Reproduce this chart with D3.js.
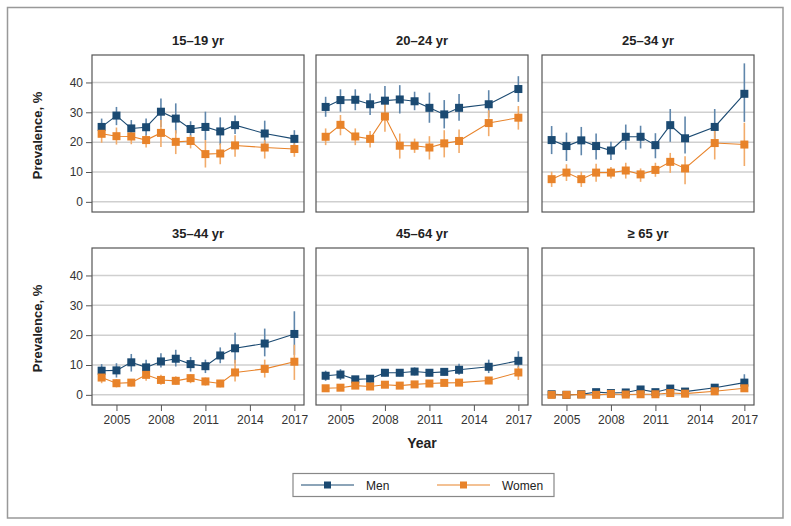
<!DOCTYPE html>
<html>
<head>
<meta charset="utf-8">
<script src="https://cdn.jsdelivr.net/npm/d3@7"></script>
<style>
  body { margin: 0; background: #fff; }
  svg { display: block; font-family: "Liberation Sans", Arial, sans-serif; }
</style>
</head>
<body>
<svg id="chart" width="791" height="526"></svg>
<script>
const years = [2004, 2005, 2006, 2007, 2008, 2009, 2010, 2011, 2012, 2013, 2015, 2017];
const groups = ["15–19 yr", "20–24 yr", "25–34 yr", "35–44 yr", "45–64 yr", "≥ 65 yr"];
const xTicks = [2005, 2008, 2011, 2014, 2017];
const yTicks = [0, 10, 20, 30, 40];
const seriesNames = ["Men", "Women"];

// Men: value, lower, upper per group
const menValues = [
  [25.1, 28.9, 24.6, 25.0, 30.2, 27.9, 24.4, 25.1, 23.6, 25.7, 22.9, 21.1],
  [31.8, 34.1, 34.2, 32.7, 33.9, 34.3, 33.7, 31.5, 29.3, 31.5, 32.7, 37.8],
  [20.7, 18.7, 20.6, 18.7, 17.2, 21.8, 21.8, 19.0, 25.7, 21.3, 25.1, 36.2],
  [8.1, 8.2, 10.9, 9.2, 11.2, 12.1, 10.3, 9.6, 13.2, 15.6, 17.2, 20.4],
  [6.4, 6.8, 5.2, 5.4, 7.4, 7.4, 7.8, 7.4, 7.7, 8.4, 9.4, 11.4],
  [0.2, 0.0, 0.2, 0.9, 0.6, 0.8, 1.8, 0.9, 2.1, 1.1, 2.4, 4.1]
];
const menLower = [
  [22.3, 25.7, 22.0, 22.0, 25.1, 22.9, 21.8, 20.7, 19.0, 22.7, 19.0, 19.0],
  [28.5, 30.2, 30.7, 29.1, 29.1, 29.6, 30.7, 26.5, 24.6, 27.2, 28.3, 33.5],
  [16.0, 13.7, 15.6, 14.2, 14.0, 17.5, 17.9, 14.6, 20.1, 16.2, 20.7, 26.8],
  [6.2, 5.8, 7.8, 7.3, 9.2, 9.5, 7.8, 7.3, 10.6, 10.6, 12.9, 13.4],
  [4.7, 5.0, 3.9, 4.0, 6.2, 6.2, 6.5, 6.2, 6.5, 6.7, 7.3, 9.0],
  [0.0, 0.0, 0.0, 0.3, 0.2, 0.3, 1.0, 0.4, 1.2, 0.6, 1.6, 2.0]
];
const menUpper = [
  [27.9, 31.8, 27.4, 27.9, 34.6, 33.0, 27.0, 30.2, 28.3, 28.9, 27.2, 24.0],
  [35.2, 37.7, 37.7, 36.3, 38.8, 39.1, 36.9, 36.6, 34.1, 36.1, 37.4, 42.1],
  [25.4, 23.2, 25.1, 22.9, 20.1, 25.9, 25.5, 23.0, 31.1, 28.6, 31.1, 46.4],
  [10.3, 10.6, 13.7, 11.8, 13.9, 15.1, 12.7, 11.8, 15.9, 20.8, 22.2, 28.0],
  [8.1, 8.6, 6.2, 6.5, 8.4, 8.4, 9.2, 8.4, 8.7, 10.4, 11.8, 14.6],
  [0.6, 0.4, 0.5, 1.5, 1.0, 1.3, 2.6, 1.4, 3.0, 1.6, 3.2, 6.9]
];

const womenValues = [
  [22.8, 22.0, 21.9, 20.7, 23.1, 20.1, 20.4, 16.0, 16.2, 18.9, 18.2, 17.7],
  [21.8, 25.8, 21.9, 21.1, 28.6, 18.8, 18.8, 18.2, 19.6, 20.4, 26.4, 28.2],
  [7.6, 9.8, 7.6, 9.8, 9.8, 10.5, 9.2, 10.7, 13.4, 11.2, 19.7, 19.2],
  [5.8, 3.9, 4.1, 6.7, 5.0, 4.7, 5.6, 4.5, 3.8, 7.5, 8.7, 11.1],
  [2.2, 2.4, 3.1, 2.8, 3.4, 3.1, 3.5, 3.8, 4.0, 4.1, 4.8, 7.5],
  [0.0, 0.0, 0.1, 0.0, 0.3, 0.1, 0.2, 0.2, 0.6, 0.4, 1.2, 2.2]
];
const womenLower = [
  [19.8, 19.2, 19.3, 18.2, 18.4, 16.0, 17.9, 11.5, 12.6, 15.1, 14.5, 15.1],
  [19.0, 22.3, 19.0, 18.2, 23.5, 14.5, 16.4, 14.2, 14.9, 16.4, 22.0, 24.2],
  [5.0, 7.0, 5.0, 6.7, 7.8, 7.8, 6.7, 8.4, 9.7, 5.9, 14.2, 12.0],
  [3.9, 2.5, 2.8, 4.7, 3.4, 3.4, 3.9, 3.1, 2.5, 4.5, 5.8, 5.0],
  [1.6, 1.8, 2.4, 2.1, 2.7, 2.4, 2.8, 3.1, 3.3, 3.3, 3.6, 5.0],
  [0.0, 0.0, 0.0, 0.0, 0.0, 0.0, 0.0, 0.0, 0.2, 0.1, 0.6, 1.0]
];
const womenUpper = [
  [24.2, 24.9, 24.0, 22.3, 27.4, 24.0, 22.3, 20.7, 19.6, 22.3, 20.7, 19.6],
  [24.6, 29.1, 24.6, 23.7, 33.5, 22.9, 21.2, 22.0, 24.0, 24.2, 30.7, 32.1],
  [10.1, 12.6, 10.1, 12.8, 11.7, 13.1, 11.2, 13.1, 16.4, 15.3, 25.1, 26.5],
  [7.3, 5.3, 5.3, 8.7, 6.7, 6.2, 6.9, 5.8, 5.0, 11.8, 11.8, 16.8],
  [2.8, 3.0, 3.8, 3.5, 4.1, 3.8, 4.2, 4.5, 4.7, 4.9, 5.6, 9.5],
  [0.2, 0.2, 0.3, 0.2, 0.6, 0.3, 0.5, 0.5, 1.0, 0.8, 1.8, 3.4]
];

const colors = { Men: "#1b4a72", Women: "#e8832a" };
const errColors = { Men: "#5f86ab", Women: "#f2ab6a" };

const svg = d3.select("#chart");

// outer border
svg.append("rect").attr("x", 7.5).attr("y", 7.5).attr("width", 775.5).attr("height", 510.5)
  .attr("fill", "none").attr("stroke", "#999").attr("stroke-width", 1.5);

const colLeft = [92, 316, 542];
const panelW = 212;
const rowTop = [55, 248];
const panelH = 157;

const x0 = d3.scaleLinear().domain([2003.35, 2017.65]).range([0, panelW]);
const y0 = d3.scaleLinear().domain([-3.4, 49.2]).range([panelH, 0]);

const line = d3.line().x(d => x0(d.year)).y(d => y0(d.v));

groups.forEach((name, gi) => {
  const col = gi % 3, row = Math.floor(gi / 3);
  const g = svg.append("g").attr("transform", `translate(${colLeft[col]},${rowTop[row]})`);

  // gridlines
  g.selectAll("line.grid").data(yTicks).enter().append("line")
    .attr("x1", 0).attr("x2", panelW)
    .attr("y1", d => y0(d)).attr("y2", d => y0(d))
    .attr("stroke", "#cfcfcf").attr("stroke-width", 1.5);

  // title
  g.append("text").attr("x", panelW / 2).attr("y", -10)
    .attr("text-anchor", "middle").attr("font-weight", "bold").attr("font-size", 13)
    .attr("fill", "#222").text(name);

  // y axis on first column
  if (col === 0) {
    const ya = d3.axisLeft(y0).tickValues(yTicks).tickSize(6).tickPadding(3);
    const ag = g.append("g").call(ya);
    ag.select(".domain").remove();
    ag.selectAll(".tick line").attr("stroke", "#555");
    ag.selectAll(".tick text").attr("font-size", 12).attr("fill", "#333")
      .attr("font-family", "Liberation Sans, Arial, sans-serif");
    g.append("text")
      .attr("transform", `translate(-50,${panelH / 2 + 2}) rotate(-90)`)
      .attr("text-anchor", "middle").attr("font-weight", "bold").attr("font-size", 13)
      .attr("fill", "#222").text("Prevalence, %");
  }
  // x axis on bottom row
  if (row === 1) {
    const xa = d3.axisBottom(x0).tickValues(xTicks).tickFormat(d3.format("d")).tickSize(6).tickPadding(4);
    const ag = g.append("g").attr("transform", `translate(0,${panelH})`).call(xa);
    ag.select(".domain").remove();
    ag.selectAll(".tick line").attr("stroke", "#555");
    ag.selectAll(".tick text").attr("font-size", 12).attr("fill", "#333")
      .attr("font-family", "Liberation Sans, Arial, sans-serif");
    if (col === 1) {
      g.append("text").attr("x", panelW / 2).attr("y", panelH + 43)
        .attr("text-anchor", "middle").attr("font-weight", "bold").attr("font-size", 14)
        .attr("fill", "#222").text("Year");
    }
  }

  const seriesData = {
    Men: years.map((yr, i) => ({ year: yr, v: menValues[gi][i], lo: menLower[gi][i], hi: menUpper[gi][i] })),
    Women: years.map((yr, i) => ({ year: yr, v: womenValues[gi][i], lo: womenLower[gi][i], hi: womenUpper[gi][i] }))
  };

  ["Men", "Women"].forEach(s => {
    const data = seriesData[s];
    g.selectAll(null).data(data).enter().append("line")
      .attr("x1", d => x0(d.year)).attr("x2", d => x0(d.year))
      .attr("y1", d => y0(d.lo)).attr("y2", d => y0(d.hi))
      .attr("stroke", errColors[s]).attr("stroke-width", 1.6);
  });
  ["Men", "Women"].forEach(s => {
    const data = seriesData[s];
    g.append("path").datum(data).attr("d", line)
      .attr("fill", "none").attr("stroke", colors[s]).attr("stroke-width", 1.1);
    g.selectAll(null).data(data).enter().append("rect")
      .attr("x", d => x0(d.year) - 4).attr("y", d => y0(d.v) - 4)
      .attr("width", 8).attr("height", 8).attr("fill", colors[s]);
  });

  // frame
  g.append("rect").attr("x", 0).attr("y", 0).attr("width", panelW).attr("height", panelH)
    .attr("fill", "none").attr("stroke", "#555").attr("stroke-width", 1.2);
});

// legend
const lg = svg.append("g");
lg.append("rect").attr("x", 293).attr("y", 473.5).attr("width", 261).attr("height", 23)
  .attr("fill", "#fff").attr("stroke", "#888").attr("stroke-width", 1.2);
const legendX = [301, 437];
seriesNames.forEach((s, i) => {
  const lx = legendX[i];
  lg.append("line").attr("x1", lx).attr("x2", lx + 53).attr("y1", 485).attr("y2", 485)
    .attr("stroke", colors[s]).attr("stroke-width", 1.1);
  lg.append("rect").attr("x", lx + 26.5 - 3.5).attr("y", 485 - 3.5).attr("width", 7).attr("height", 7)
    .attr("fill", colors[s]);
  lg.append("text").attr("x", lx + 65).attr("y", 489.5).attr("font-size", 12)
    .attr("fill", "#222").text(s);
});
</script>
</body>
</html>
